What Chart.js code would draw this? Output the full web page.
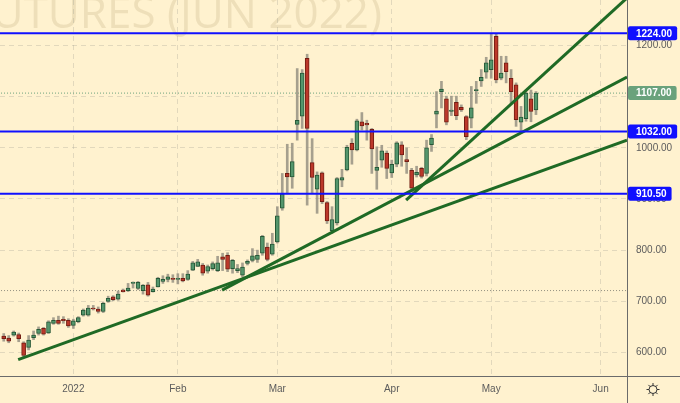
<!DOCTYPE html>
<html>
<head>
<meta charset="utf-8">
<script src="https://cdn.jsdelivr.net/npm/chart.js@4.4.0/dist/chart.umd.min.js"></script>
<style>
  html, body { margin: 0; padding: 0; background: #fff2cf; }
  #wrap { width: 680px; height: 403px; }
</style>
</head>
<body>
<div id="wrap"><canvas id="futChart" width="680" height="403"></canvas></div>
<script>
/******************************************************************
DAILY CANDLES (mid Dec 2021 -> 13 May 2022), one bar per session
******************************************************************/

var opens = [632, 628, 634, 635, 619, 610, 629, 637, 647, 638, 657, 663, 665, 663,
  653, 660, 673, 673, 687, 685, 680, 700, 709, 704, 722, 721, 735, 725, 721, 732,
  719, 728, 739, 743, 745, 743, 745, 743, 761, 768, 771, 759, 764, 760, 787, 790,
  764, 760, 751, 774, 780, 782, 794, 806, 792, 816, 882, 950, 943, 1046, 1062, 1175,
  971, 919, 951, 893, 838, 853, 937, 957, 1009, 996, 1051, 1048, 1036, 956, 976, 990,
  951, 968, 1006, 977, 956, 947, 960, 950, 1006, 1066, 1110, 1096, 1071, 1089, 1079, 1061,
  1058, 1112, 1131, 1148, 1153, 1218, 1136, 1166, 1136, 1123, 1050, 1057, 1096, 1074];
var highs = [637, 633, 642, 638, 621, 633, 642, 650, 649, 662, 668, 671, 670, 666,
  665, 670, 685, 692, 692, 689, 698, 710, 711, 720, 724, 735, 738, 739, 733, 737,
  728, 747, 750, 753, 752, 754, 754, 760, 778, 782, 774, 771, 777, 788, 794, 795,
  782, 772, 775, 781, 803, 800, 829, 814, 833, 885, 950, 1007, 1009, 1155, 1153, 1183,
  1018, 953, 953, 895, 885, 942, 958, 1005, 1018, 1056, 1069, 1054, 1038, 1002, 1005, 994,
  976, 1012, 1012, 1000, 960, 964, 962, 1015, 1026, 1110, 1130, 1101, 1101, 1101, 1084, 1063,
  1120, 1130, 1153, 1177, 1224, 1222, 1179, 1179, 1153, 1127, 1081, 1110, 1113, 1110];
var lows = [622, 619, 632, 621, 591, 605, 625, 634, 634, 637, 655, 655, 657, 649,
  647, 658, 671, 671, 683, 677, 678, 698, 701, 702, 718, 719, 726, 723, 714, 710,
  718, 728, 735, 738, 737, 734, 738, 741, 760, 768, 751, 755, 761, 758, 760, 758,
  755, 756, 748, 771, 777, 776, 790, 779, 790, 814, 878, 910, 921, 1015, 1038, 888,
  911, 872, 891, 852, 833, 849, 924, 955, 968, 994, 1035, 1015, 950, 919, 962, 940,
  942, 963, 964, 950, 914, 943, 941, 945, 993, 1039, 1078, 1045, 1063, 1055, 1071, 1016,
  1039, 1087, 1120, 1136, 1136, 1127, 1133, 1127, 1087, 1042, 1032, 1052, 1051, 1065];
var closes = [627, 622, 640, 627, 594, 624, 634, 645, 636, 660, 663, 657, 662, 652,
  662, 668, 683, 687, 685, 680, 696, 706, 703, 714, 719, 726, 737, 737, 731, 712,
  724, 745, 743, 748, 743, 745, 740, 753, 775, 777, 755, 768, 774, 775, 782, 763,
  780, 764, 767, 778, 789, 790, 827, 782, 812, 867, 910, 943, 973, 1054, 1146, 1038,
  942, 947, 895, 857, 860, 940, 942, 1001, 996, 1053, 1043, 1045, 998, 962, 994, 960,
  968, 1010, 986, 973, 921, 952, 944, 1000, 1019, 1072, 1115, 1050, 1074, 1063, 1074, 1022,
  1078, 1114, 1138, 1166, 1172, 1133, 1146, 1149, 1110, 1055, 1060, 1107, 1071, 1107];

// first bar of each month on the time axis (Jun is still in the future)
var monthLabels = ["2022", "Feb", "Mar", "Apr", "May", "Jun"];
var monthStartBar = [14, 35, 55, 78, 98, 120];

var priceTicks = [600, 700, 800, 900, 1000, 1100, 1200];

// horizontal levels, last price, old reference line
var levelPrices = [1224, 1032, 910.5];
var lastPrice = 1107;
var refPrice = 721;

// trend lines: [bar, price] -> [bar, price]
var trendLow  = [[2.9, 586], [125.3, 1015]];
var trendMid  = [[43.9, 722], [125.3, 1138.5]];
var trendHigh = [[80.9, 898], [125.3, 1293]];

var watermarkText = "FUTURES (JUN 2022)";


/******************************************************************
STYLE
******************************************************************/

var X_MIN = -0.75, X_MAX = 125.3;
var Y_MIN = 554, Y_MAX = 1289;

var bgColor = "#fff2cf";
var gridColor = "rgba(150, 150, 140, 0.28)";
var axisColor = "#6b6b6b";
var labelColor = "#5c5c5c";
var levelBlue = "rgb(16, 16, 255)";
var trendGreen = "#1f6a25";
var upFill = "rgb(84, 150, 108)", upEdge = "rgb(38, 88, 55)";
var downFill = "rgb(188, 56, 42)", downEdge = "rgb(115, 28, 18)";
var wickColor = "rgba(150, 146, 130, 0.85)";
var lastGreen = "rgb(106, 162, 124)";
var tickFont = { family: "'Liberation Sans', Arial, sans-serif", size: 10 };


/******************************************************************
DATASETS
******************************************************************/

var wickPoints = lows.map(function (l, i) { return { x: i, y: [l, highs[i]] }; });
var bodyPoints = opens.map(function (o, i) { return { x: i, y: [o, closes[i]] }; });
var bodyFill = opens.map(function (o, i) { return closes[i] >= o ? upFill : downFill; });
var bodyEdge = opens.map(function (o, i) { return closes[i] >= o ? upEdge : downEdge; });

function flatLine(price, color, width, dash, order) {
  return {
    type: "line",
    data: [{ x: X_MIN - 1, y: price }, { x: X_MAX + 1, y: price }],
    borderColor: color,
    borderWidth: width,
    borderDash: dash,
    pointRadius: 0,
    order: order
  };
}

function slopeLine(pts) {
  return {
    type: "line",
    data: pts.map(function (p) { return { x: p[0], y: p[1] }; }),
    borderColor: trendGreen,
    borderWidth: 3,
    pointRadius: 0,
    order: 0
  };
}

var datasets = [];
levelPrices.forEach(function (p) { datasets.push(flatLine(p, levelBlue, 2, [], 0)); });
datasets.push(slopeLine(trendLow));
datasets.push(slopeLine(trendMid));
datasets.push(slopeLine(trendHigh));
datasets.push({
  type: "bar", data: bodyPoints, grouped: false, barThickness: 4,
  backgroundColor: bodyFill, borderColor: bodyEdge, borderWidth: 1, borderSkipped: false,
  order: 1
});
datasets.push({
  type: "bar", data: wickPoints, grouped: false, barThickness: 2,
  backgroundColor: wickColor, borderWidth: 0, order: 2
});
datasets.push(flatLine(lastPrice, lastGreen, 1, [1, 2], 3));
datasets.push(flatLine(refPrice, "rgba(120, 120, 110, 0.8)", 1, [1, 2], 3));


/******************************************************************
EXTRA DRAWING: background, watermark, price tags, gear
******************************************************************/

function roundRect(ctx, x, y, w, h, r) {
  ctx.beginPath();
  ctx.moveTo(x + r, y);
  ctx.lineTo(x + w - r, y);
  ctx.quadraticCurveTo(x + w, y, x + w, y + r);
  ctx.lineTo(x + w, y + h - r);
  ctx.quadraticCurveTo(x + w, y + h, x + w - r, y + h);
  ctx.lineTo(x + r, y + h);
  ctx.quadraticCurveTo(x, y + h, x, y + h - r);
  ctx.lineTo(x, y + r);
  ctx.quadraticCurveTo(x, y, x + r, y);
  ctx.closePath();
}

function priceTag(chart, price, color) {
  var ctx = chart.ctx;
  var yScale = chart.scales.y;
  var y = yScale.getPixelForValue(price);
  var text = price.toFixed(2);
  ctx.font = "bold 10px 'Liberation Sans', Arial, sans-serif";
  var w = ctx.measureText(text).width + 13;
  ctx.fillStyle = color;
  roundRect(ctx, yScale.left + 1, y - 7, w, 14, 2);
  ctx.fill();
  ctx.fillStyle = "#ffffff";
  ctx.textAlign = "left";
  ctx.textBaseline = "middle";
  ctx.fillText(text, yScale.left + 9, y + 0.5);
}

var paperPlugin = {
  id: "paper",
  beforeDraw: function (chart) {
    var ctx = chart.ctx;
    ctx.save();
    ctx.fillStyle = bgColor;
    ctx.fillRect(0, 0, chart.width, chart.height);
    ctx.font = "44px 'Open Sans', sans-serif";
    ctx.fillStyle = "rgba(170, 150, 100, 0.2)";
    ctx.textAlign = "right";
    ctx.textBaseline = "alphabetic";
    ctx.fillText(watermarkText, 382, 28);
    ctx.restore();
  },
  afterDraw: function (chart) {
    var ctx = chart.ctx;
    var area = chart.chartArea;
    ctx.save();

    // axis lines run on through the corner box
    ctx.strokeStyle = axisColor;
    ctx.lineWidth = 1;
    ctx.beginPath();
    ctx.moveTo(area.right + 0.5, area.bottom);
    ctx.lineTo(area.right + 0.5, chart.height);
    ctx.moveTo(area.right, area.bottom + 0.5);
    ctx.lineTo(chart.width, area.bottom + 0.5);
    ctx.stroke();

    levelPrices.forEach(function (p) { priceTag(chart, p, levelBlue); });
    priceTag(chart, lastPrice, lastGreen);

    // settings gear
    var cx = 653, cy = 389.5;
    ctx.strokeStyle = "#333";
    ctx.lineWidth = 1;
    ctx.beginPath();
    ctx.arc(cx, cy, 4, 0, Math.PI * 2);
    for (var k = 0; k < 8; k++) {
      var a = k * Math.PI / 4;
      ctx.moveTo(cx + Math.cos(a) * 4, cy + Math.sin(a) * 4);
      ctx.lineTo(cx + Math.cos(a) * 6.5, cy + Math.sin(a) * 6.5);
    }
    ctx.stroke();
    ctx.restore();
  }
};


/******************************************************************
CHART
******************************************************************/

var futCtx = document.getElementById("futChart").getContext("2d");

var futChart = new Chart(futCtx, {
  type: "bar",
  data: { datasets: datasets },
  options: {
    responsive: false,
    animation: false,
    layout: { padding: 0 },
    plugins: { legend: { display: false }, tooltip: { enabled: false } },
    scales: {
      x: {
        type: "linear",
        min: X_MIN,
        max: X_MAX,
        offset: false,
        afterBuildTicks: function (axis) {
          axis.ticks = monthStartBar.map(function (v) { return { value: v }; });
        },
        afterFit: function (axis) {
          axis.height = 27;
          axis.paddingLeft = 0;
          axis.paddingRight = 0;
        },
        grid: { color: gridColor, offset: false, drawTicks: false },
        border: { display: true, color: axisColor, dash: [5, 4] },
        ticks: {
          autoSkip: false,
          maxRotation: 0,
          padding: 7,
          color: labelColor,
          font: tickFont,
          callback: function (v, i) { return monthLabels[i]; }
        }
      },
      y: {
        type: "linear",
        position: "right",
        min: Y_MIN,
        max: Y_MAX,
        afterBuildTicks: function (axis) {
          axis.ticks = priceTicks.map(function (v) { return { value: v }; });
        },
        afterFit: function (axis) {
          axis.width = 53;
          axis.paddingTop = 0;
          axis.paddingBottom = 0;
        },
        grid: { color: gridColor, drawTicks: false },
        border: { display: true, color: axisColor, dash: [5, 4] },
        ticks: {
          padding: 9,
          color: labelColor,
          font: tickFont,
          callback: function (v) { return Number(v).toFixed(2); }
        }
      }
    }
  },
  plugins: [paperPlugin]
});
</script>
</body>
</html>
